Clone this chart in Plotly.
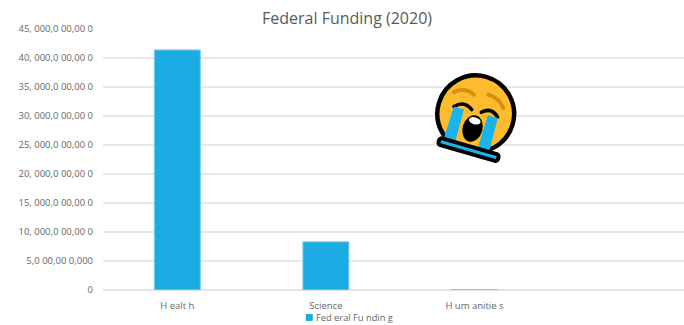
import base64
import plotly.graph_objects as go

categories = ["Health", "Science", "Humanities", "Other"]
category_labels = ["H ealt h", "Science", "H um anitie s", ""]
funding = [41400000000, 8300000000, 90000000, None]
tick_values = [0, 5e9, 10e9, 15e9, 20e9, 25e9, 30e9, 35e9, 40e9, 45e9]
tick_labels = [
    "0", "5,0 00,00 0,000", "10, 000,0 00,00 0", "15, 000,0 00,00 0",
    "20, 000,0 00,00 0", "25, 000,0 00,00 0", "30, 000,0 00,00 0",
    "35, 000,0 00,00 0", "40, 000,0 00,00 0", "45, 000,0 00,00 0",
]

# Loudly crying face, tilted clockwise
emoji_svg = """<svg xmlns="http://www.w3.org/2000/svg" viewBox="0 0 100 100">
<g transform="rotate(16 50 50)">
<circle cx="50" cy="50" r="38.5" fill="#fcbc2d" stroke="#000" stroke-width="4.5"/>
<path d="M23 35 Q32 27 43 32" fill="none" stroke="#d98e10" stroke-width="4" stroke-linecap="round"/>
<path d="M57 28 Q68 28 75 37" fill="none" stroke="#d98e10" stroke-width="4" stroke-linecap="round"/>
<path d="M27 49 Q35 40 45 47" fill="none" stroke="#000" stroke-width="3.5" stroke-linecap="round"/>
<path d="M55 47 Q63 39 72 47" fill="none" stroke="#000" stroke-width="3.5" stroke-linecap="round"/>
<ellipse cx="51" cy="65" rx="10" ry="13.5" fill="#000"/>
<ellipse cx="51" cy="57" rx="6" ry="3.5" fill="#fff"/>
<path d="M27 49 H37.5 L38 84 H26 Z M62 48 H72.5 L73.5 84 H61.5 Z" fill="#19b4ec"/>
<rect x="22" y="83" width="62" height="7" rx="2.5" fill="#19b4ec" stroke="#000" stroke-width="4"/>
</g>
</svg>"""
emoji_src = "data:image/svg+xml;base64," + base64.b64encode(emoji_svg.encode()).decode()

fig = go.Figure(
    go.Bar(
        x=categories,
        y=funding,
        name="Federal Funding",
        width=0.31,
        marker=dict(color="#1cace4", line=dict(color="#7fd0f0", width=1)),
    )
)

fig.update_layout(
    width=684,
    height=325,
    margin=dict(l=103, r=0, t=28.5, b=35),
    paper_bgcolor="white",
    plot_bgcolor="white",
    font=dict(family="Open Sans", color="#666666", size=9.5),
    showlegend=False,
    title=dict(
        text="Federal Funding (2020)",
        x=0.42, xanchor="center", xref="paper",
        y=0.943, yanchor="middle",
        font=dict(size=16, color="#595959", family="Open Sans"),
    ),
    xaxis=dict(
        type="category",
        categoryorder="array",
        categoryarray=categories,
        tickmode="array",
        tickvals=categories,
        ticktext=category_labels,
        range=[-0.5, 3.41],
        showgrid=False,
        showline=False,
        ticks="",
        ticklabelstandoff=8,
        tickfont=dict(size=9.5, color="#666666"),
    ),
    yaxis=dict(
        range=[0, 45e9],
        tickmode="array",
        tickvals=tick_values,
        ticktext=tick_labels,
        showgrid=True,
        gridcolor="#e8e8e8",
        gridwidth=1.5,
        zeroline=True,
        zerolinecolor="#e4e4e4",
        zerolinewidth=1.5,
        ticks="",
        ticklabelstandoff=9,
        tickfont=dict(size=9.5, color="#666666"),
    ),
    images=[dict(
        source=emoji_src,
        xref="paper", yref="paper",
        x=0.5555, y=0.866,
        sizex=0.172, sizey=0.382,
        xanchor="left", yanchor="top",
        layer="above",
    )],
    # Legend swatch beneath the category labels
    shapes=[dict(
        type="rect",
        xref="paper", yref="paper",
        x0=0.349, x1=0.361, y0=-0.1185, y1=-0.092,
        fillcolor="#1cace4",
        line=dict(width=0),
    )],
)

# Legend entry drawn beneath the category labels
fig.add_annotation(
    text="Fed eral Fu ndin g",
    xref="paper", yref="paper",
    x=0.364, y=-0.104,
    xanchor="left", yanchor="middle",
    showarrow=False,
    font=dict(size=9.3, color="#666666"),
)

fig.write_html("out.html")
